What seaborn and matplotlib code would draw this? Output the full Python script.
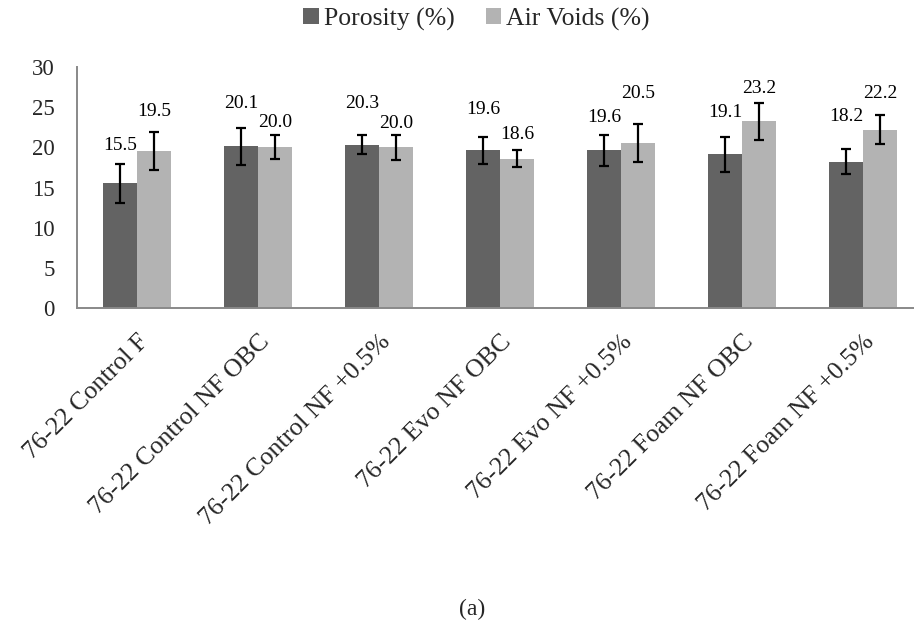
import matplotlib
matplotlib.use("Agg")
import matplotlib.pyplot as plt
import seaborn as sns
import pandas as pd
from matplotlib.patches import Patch

# ---------------- data ----------------
categories = [
    "76-22 Control F",
    "76-22 Control NF OBC",
    "76-22 Control NF +0.5%",
    "76-22 Evo NF OBC",
    "76-22 Evo NF +0.5%",
    "76-22 Foam NF OBC",
    "76-22 Foam NF +0.5%",
]
series_names = ["Porosity (%)", "Air Voids (%)"]
porosity = [15.5, 20.1, 20.3, 19.6, 19.6, 19.1, 18.2]
air_voids = [19.5, 20.0, 20.0, 18.6, 20.5, 23.2, 22.2]
porosity_err = [2.4, 2.35, 1.2, 1.65, 1.95, 2.15, 1.55]
air_voids_err = [2.35, 1.5, 1.55, 1.1, 2.35, 2.3, 1.8]
y_ticks = [0, 5, 10, 15, 20, 25, 30]
caption = "(a)"

# ---------------- style ----------------
colors = ["#636363", "#b3b3b3"]
axis_gray = "#898989"
# label gap above error bar top, in pixels (manual label placement of original)
porosity_label_gap = [10, 16, 23, 19, 9, 16, 24]
air_label_gap = [12, 4, 3, 7, 22, 6, 13]

sns.set_style("white")
plt.rcParams["font.family"] = ["Liberation Serif", "DejaVu Serif"]

df = pd.DataFrame({
    "category": categories * 2,
    "series": [series_names[0]] * len(categories) + [series_names[1]] * len(categories),
    "value": porosity + air_voids,
})

W, H, DPI = 914, 631, 100
fig = plt.figure(figsize=(W / DPI, H / DPI), dpi=DPI)
ax_left, ax_right = 76.7, 923.8
ax_top, ax_bottom = 66.7, 308.3
ax = fig.add_axes([ax_left / W, 1 - ax_bottom / H, (ax_right - ax_left) / W, (ax_bottom - ax_top) / H])

sns.barplot(data=df, x="category", y="value", hue="series", order=categories,
            hue_order=series_names, palette=dict(zip(series_names, colors)),
            width=0.565, saturation=1, linewidth=0, errorbar=None, legend=False, ax=ax)

px2pt = 72.0 / DPI
for cont, vals, errs, gaps in [(ax.containers[0], porosity, porosity_err, porosity_label_gap),
                               (ax.containers[1], air_voids, air_voids_err, air_label_gap)]:
    xs = [b.get_x() + b.get_width() / 2 for b in cont]
    ax.errorbar(xs, vals, yerr=errs, fmt="none", ecolor="black", elinewidth=1.6,
                capsize=3.3, capthick=1.6, zorder=5)
    for x, v, e, g in zip(xs, vals, errs, gaps):
        ax.annotate(f"{v:.1f}", (x, v + e), xytext=(0, g * px2pt), textcoords="offset points",
                    ha="center", va="bottom", fontsize=14, color="black")

ax.set_ylim(0, 30)
ax.set_xlim(-0.5, len(categories) - 0.5)
ax.set_yticks(y_ticks)
ax.set_yticklabels([str(t) for t in y_ticks], fontsize=16.5)
ax.set_xticks(range(len(categories)))
ax.set_xticklabels(categories, rotation=45, ha="right", va="top", rotation_mode="anchor", fontsize=18.5)
ax.set_xticks([i - 0.5 for i in range(len(categories) + 1)], minor=True)
ax.tick_params(axis="x", which="major", length=0, pad=16)
ax.tick_params(axis="x", which="minor", length=6, width=1.2, color=axis_gray, direction="out")
ax.tick_params(axis="y", which="major", length=6, width=1.2, color=axis_gray, direction="out", pad=10)
ax.set_xlabel("")
ax.set_ylabel("")
for s in ["top", "right"]:
    ax.spines[s].set_visible(False)
for s in ["left", "bottom"]:
    ax.spines[s].set_color(axis_gray)
    ax.spines[s].set_linewidth(1.4)

handles = [Patch(facecolor=c, edgecolor="none", label=n) for c, n in zip(colors, series_names)]
fig.legend(handles=handles, loc="center", bbox_to_anchor=(476.5 / W, 1 - 19 / H), ncol=2,
           frameon=False, fontsize=18.5, handlelength=0.6, handleheight=0.6,
           handletextpad=0.2, columnspacing=1.2, borderpad=0)

fig.text(472 / W, 1 - 609 / H, caption, ha="center", va="center", fontsize=17)

fig.savefig("out.png", dpi=DPI)
